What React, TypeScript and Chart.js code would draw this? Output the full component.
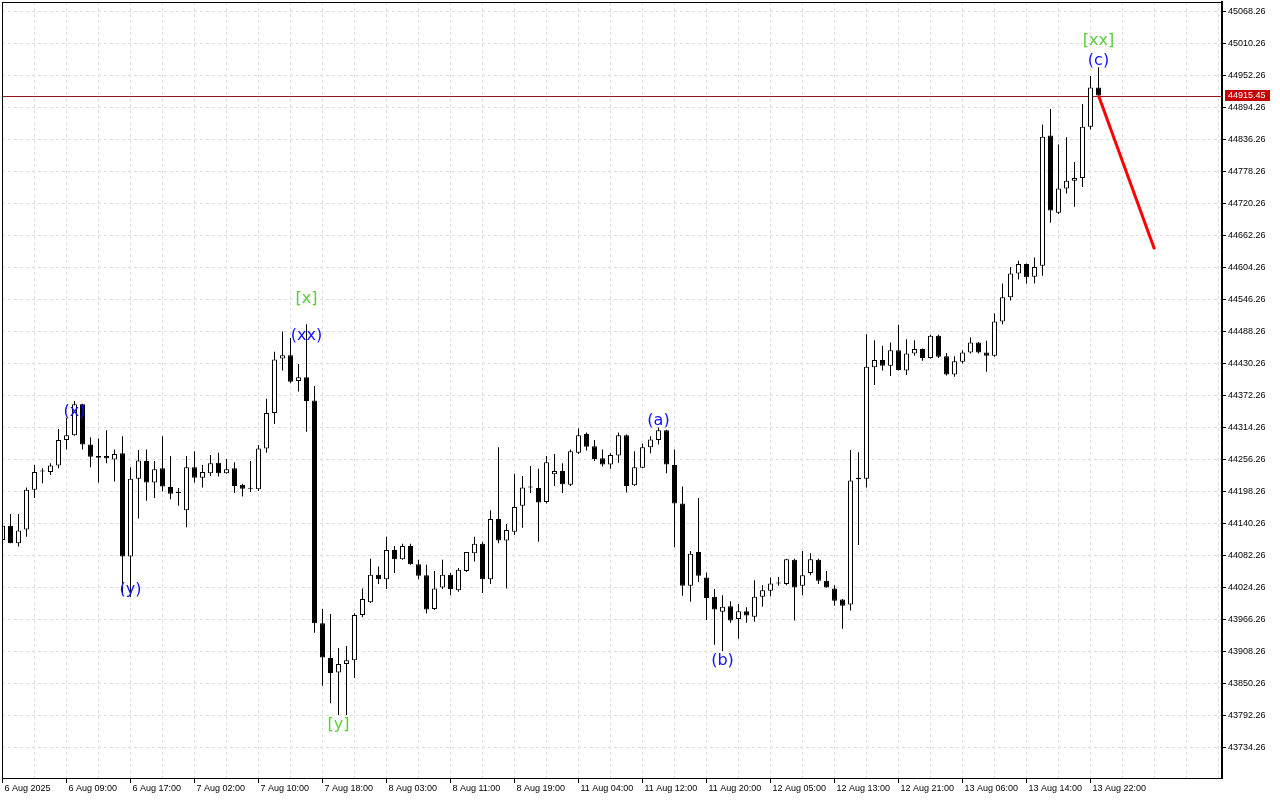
import React, { useEffect, useRef } from 'react';
import { Chart, registerables } from 'chart.js';

Chart.register(...registerables);

// Time-axis labels (one every 8 hourly bars)
const xLabels = [
  '6 Aug 2025', '6 Aug 09:00', '6 Aug 17:00', '7 Aug 02:00', '7 Aug 10:00', '7 Aug 18:00',
  '8 Aug 03:00', '8 Aug 11:00', '8 Aug 19:00', '11 Aug 04:00', '11 Aug 12:00', '11 Aug 20:00',
  '12 Aug 05:00', '12 Aug 13:00', '12 Aug 21:00', '13 Aug 06:00', '13 Aug 14:00', '13 Aug 22:00',
];

// Price-axis tick labels
const yTicks = [
  43734.26, 43792.26, 43850.26, 43908.26, 43966.26, 44024.26, 44082.26, 44140.26,
  44198.26, 44256.26, 44314.26, 44372.26, 44430.26, 44488.26, 44546.26, 44604.26,
  44662.26, 44720.26, 44778.26, 44836.26, 44894.26, 44952.26, 45010.26, 45068.26,
];

// OHLC series (hourly bars)
const opens = [
  44110, 44136, 44104, 44129, 44201, 44234, 44233, 44245, 44291, 44300,
  44356, 44283, 44262, 44262, 44256, 44267, 44080, 44221, 44253, 44214,
  44240, 44206, 44197, 44164, 44242, 44223, 44231, 44250, 44231, 44240,
  44210, 44203, 44202, 44276, 44340, 44439, 44445, 44398, 44405, 44363,
  43959, 43896, 43870, 43885, 43892, 43974, 43997, 44047, 44039, 44092,
  44075, 44099, 44066, 44046, 43985, 44024, 44047, 44019, 44054, 44086,
  44103, 44039, 44148, 44109, 44125, 44172, 44205, 44204, 44179, 44229,
  44235, 44210, 44268, 44302, 44280, 44258, 44247, 44263, 44300, 44209,
  44241, 44278, 44291, 44309, 44246, 44176, 44027, 44088, 44042, 44007,
  43980, 43990, 43967, 43981, 43971, 44007, 44018, 44031, 44030, 44074,
  44027, 44050, 44074, 44036, 44022, 44002, 43993, 44220, 44221, 44423,
  44436, 44426, 44454, 44417, 44448, 44456, 44440, 44480, 44443, 44410,
  44433, 44450, 44468, 44450, 44444, 44506, 44550, 44593, 44610, 44587,
  44607, 44843, 44703, 44747, 44761, 44766, 44859, 44930,
];
const highs = [
  44146, 44157, 44157, 44205, 44246, 44240, 44249, 44311, 44331, 44362,
  44357, 44296, 44294, 44309, 44274, 44298, 44242, 44273, 44274, 44253,
  44298, 44262, 44204, 44262, 44271, 44246, 44264, 44268, 44257, 44251,
  44212, 44253, 44282, 44366, 44451, 44488, 44476, 44429, 44501, 44389,
  43985, 43976, 43914, 43918, 43977, 44022, 44076, 44062, 44116, 44099,
  44103, 44103, 44074, 44065, 44054, 44074, 44050, 44059, 44088, 44116,
  44107, 44164, 44278, 44139, 44230, 44226, 44244, 44239, 44262, 44266,
  44249, 44274, 44312, 44305, 44291, 44274, 44267, 44305, 44301, 44271,
  44285, 44298, 44314, 44310, 44274, 44207, 44090, 44186, 44051, 44021,
  44010, 43999, 43994, 43988, 44037, 44028, 44042, 44043, 44076, 44076,
  44090, 44086, 44076, 44054, 44028, 44003, 44273, 44269, 44483, 44472,
  44462, 44468, 44500, 44474, 44472, 44457, 44482, 44482, 44449, 44443,
  44454, 44477, 44469, 44471, 44521, 44575, 44605, 44616, 44611, 44622,
  44863, 44891, 44827, 44840, 44795, 44900, 44951, 44967,
];
const lows = [
  44101, 44104, 44098, 44116, 44186, 44213, 44228, 44240, 44274, 44299,
  44274, 44242, 44214, 44249, 44216, 44010, 44007, 44149, 44181, 44186,
  44198, 44184, 44172, 44133, 44214, 44205, 44226, 44225, 44230, 44195,
  44189, 44197, 44199, 44268, 44320, 44417, 44394, 44379, 44306, 43942,
  43846, 43814, 43793, 43793, 43860, 43970, 43996, 44030, 44021, 44050,
  44074, 44065, 44039, 43977, 43983, 44021, 44010, 44016, 44052, 44071,
  44014, 44030, 44104, 44022, 44119, 44132, 44195, 44107, 44176, 44208,
  44195, 44208, 44266, 44272, 44253, 44243, 44239, 44250, 44196, 44208,
  44240, 44267, 44283, 44231, 44097, 44009, 43998, 44034, 43965, 43920,
  43909, 43960, 43931, 43960, 43962, 43989, 44008, 44027, 44028, 43964,
  44010, 44046, 44030, 44024, 43991, 43949, 43982, 44101, 44205, 44391,
  44417, 44407, 44417, 44409, 44444, 44435, 44439, 44440, 44408, 44406,
  44430, 44448, 44448, 44415, 44442, 44501, 44544, 44582, 44575, 44575,
  44589, 44685, 44701, 44738, 44714, 44750, 44854, 44915,
];
const closes = [
  44136, 44104, 44127, 44201, 44233, 44235, 44245, 44291, 44300, 44356,
  44283, 44261, 44259, 44258, 44266, 44080, 44221, 44254, 44214, 44238,
  44207, 44194, 44195, 44242, 44223, 44233, 44249, 44231, 44238, 44208,
  44203, 44204, 44276, 44340, 44437, 44445, 44397, 44405, 44362, 43959,
  43897, 43869, 43885, 43892, 43974, 44003, 44047, 44039, 44092, 44075,
  44099, 44066, 44045, 43984, 44022, 44047, 44021, 44056, 44088, 44103,
  44039, 44148, 44109, 44128, 44170, 44205, 44206, 44178, 44251, 44235,
  44211, 44271, 44300, 44279, 44257, 44247, 44264, 44300, 44208, 44242,
  44278, 44292, 44309, 44247, 44176, 44027, 44085, 44045, 44005, 43984,
  43989, 43964, 43981, 43973, 44007, 44019, 44031, 44032, 44075, 44024,
  44046, 44075, 44036, 44024, 44000, 43991, 44218, 44223, 44424, 44436,
  44426, 44454, 44418, 44448, 44456, 44440, 44480, 44442, 44410, 44434,
  44450, 44468, 44450, 44444, 44506, 44550, 44593, 44610, 44586, 44605,
  44841, 44707, 44747, 44761, 44766, 44859, 44930, 44915.45,
];

// Elliott-wave labels: text, bar index, price anchor, degree
const waveText = ['(x)', '(y)', '[x]', '(xx)', '[y]', '(a)', '(b)', '[xx]', '(c)'];
const waveIdx = [9, 16, 38, 38, 42, 82, 90, 137, 137];
const wavePrice = [44346, 44024, 44550, 44483, 43778, 44329, 43894, 45018, 44982];
const waveDegree = ['minor', 'minor', 'major', 'minor', 'major', 'minor', 'minor', 'major', 'minor'];

// Forecast line (bar index, price)
const projIdx = [137, 144];
const projPrice = [44915.45, 44637];

const lastPrice = closes[closes.length - 1];

// View range
const X_MIN = -0.0625;
const X_MAX = 152.4375;
const Y_MIN = 43678.6;
const Y_MAX = 45085.1;

const FONT = "'Liberation Sans', Arial, sans-serif";

export default function App() {
  const ref = useRef<HTMLCanvasElement>(null);

  useEffect(() => {
    const canvas = ref.current;
    if (!canvas) return;

    const idx = opens.map((_, i) => i);
    const wickData = idx.map((i) => ({ x: i, y: [lows[i], highs[i]] }));
    const bodyData = idx.map((i) => ({ x: i, y: [opens[i], closes[i]] }));
    const bodyFill = idx.map((i) => (closes[i] >= opens[i] ? '#ffffff' : '#000000'));
    const xGrid: number[] = [];
    for (let v = 0; v <= X_MAX; v += 4) xGrid.push(v);
    const hasLabel = (v: number) => v % 8 === 0 && v / 8 < xLabels.length;

    const overlay = {
      id: 'overlay',
      beforeDatasetsDraw(chart: any) {
        const { ctx, chartArea } = chart;
        const ys = chart.scales.y;
        ctx.save();
        // current price line
        const py = Math.round(ys.getPixelForValue(lastPrice)) + 0.5;
        ctx.strokeStyle = '#8c1a1a';
        ctx.lineWidth = 1;
        ctx.beginPath();
        ctx.moveTo(chartArea.left, py);
        ctx.lineTo(chartArea.right, py);
        ctx.stroke();
        ctx.restore();
      },
      afterDatasetsDraw(chart: any) {
        const { ctx } = chart;
        const xs = chart.scales.x;
        const ys = chart.scales.y;
        ctx.save();
        ctx.font = "16px 'DejaVu Sans', sans-serif";
        ctx.textAlign = 'center';
        ctx.textBaseline = 'middle';
        waveText.forEach((t, i) => {
          ctx.fillStyle = waveDegree[i] === 'major' ? '#5ccc3c' : '#1010ff';
          ctx.fillText(t, xs.getPixelForValue(waveIdx[i]), ys.getPixelForValue(wavePrice[i]) + 2);
        });
        ctx.restore();
      },
      afterDraw(chart: any) {
        const { ctx, chartArea } = chart;
        const ys = chart.scales.y;
        ctx.save();
        // frame top / left
        ctx.strokeStyle = '#000';
        ctx.lineWidth = 1;
        ctx.beginPath();
        ctx.moveTo(chartArea.left + 0.5, chartArea.top + 0.5);
        ctx.lineTo(chartArea.right + 1, chartArea.top + 0.5);
        ctx.moveTo(chartArea.left + 0.5, chartArea.top);
        ctx.lineTo(chartArea.left + 0.5, chartArea.bottom);
        ctx.stroke();
        // price tag
        const py = Math.round(ys.getPixelForValue(lastPrice));
        const txt = lastPrice.toFixed(2);
        ctx.font = `9px ${FONT}`;
        const w = Math.ceil(ctx.measureText(txt).width) + 7;
        const x0 = chartArea.right + 3;
        ctx.fillStyle = '#c80000';
        ctx.fillRect(x0, py - 6, w, 11);
        ctx.fillStyle = '#ffffff';
        ctx.textAlign = 'left';
        ctx.textBaseline = 'middle';
        ctx.fillText(txt, x0 + 3, py - 0.5);
        ctx.restore();
      },
    };

    const chart = new Chart(canvas, {
      type: 'bar',
      data: {
        datasets: [
          {
            type: 'line',
            data: projIdx.map((k, i) => ({ x: k, y: projPrice[i] })),
            borderColor: '#ff0000',
            borderWidth: 3,
            pointRadius: 0,
            order: 0,
            clip: 0,
          } as any,
          {
            type: 'bar',
            data: bodyData,
            backgroundColor: bodyFill,
            borderColor: '#000000',
            borderWidth: 1,
            borderSkipped: false,
            barThickness: 5,
            grouped: false,
            inflateAmount: 0,
            minBarLength: 1,
            order: 1,
            clip: 0,
          } as any,
          {
            type: 'bar',
            data: wickData,
            backgroundColor: '#000000',
            borderWidth: 0,
            barThickness: 1,
            grouped: false,
            inflateAmount: 0,
            order: 2,
            clip: 0,
          } as any,
        ],
      },
      options: {
        responsive: false,
        animation: false,
        devicePixelRatio: 1,
        layout: { padding: { left: 2, top: 2, right: 0, bottom: 0 } },
        plugins: { legend: { display: false }, tooltip: { enabled: false } },
        scales: {
          x: {
            type: 'linear',
            position: 'bottom',
            bounds: 'data',
            min: X_MIN,
            max: X_MAX,
            offset: false,
            afterBuildTicks: (s: any) => {
              s.ticks = xGrid.map((v) => ({ value: v }));
            },
            afterFit: (s: any) => {
              s.height = 22;
              s.paddingLeft = 0;
              s.paddingRight = 0;
            },
            grid: {
              offset: false,
              color: '#dedede',
              lineWidth: 1,
              drawTicks: true,
              tickLength: 5,
              tickWidth: 1,
              tickColor: (c: any) => (c.tick && hasLabel(c.tick.value) ? '#000000' : 'rgba(0,0,0,0)'),
              tickBorderDash: [],
            },
            border: { display: true, color: '#000000', width: 1, dash: [3, 3] },
            ticks: {
              autoSkip: false,
              maxRotation: 0,
              minRotation: 0,
              align: 'start',
              labelOffset: 2,
              padding: 0,
              color: '#000000',
              font: { family: FONT, size: 9 },
              callback: (v: any) => {
                const n = Number(v);
                return hasLabel(n) ? xLabels[n / 8] : '';
              },
            },
          },
          y: {
            type: 'linear',
            position: 'right',
            bounds: 'data',
            min: Y_MIN,
            max: Y_MAX,
            afterBuildTicks: (s: any) => {
              s.ticks = yTicks.map((v) => ({ value: v }));
            },
            afterFit: (s: any) => {
              s.width = 58;
              s.paddingTop = 0;
              s.paddingBottom = 0;
            },
            grid: {
              color: '#dedede',
              lineWidth: 1,
              drawTicks: true,
              tickLength: 4,
              tickColor: '#000000',
              tickBorderDash: [],
            },
            border: { display: true, color: '#000000', width: 2, dash: [3, 3] },
            ticks: {
              padding: 2,
              color: '#000000',
              font: { family: FONT, size: 9 },
              callback: (v: any) => Number(v).toFixed(2),
            },
          },
        },
      } as any,
      plugins: [overlay],
    });

    return () => chart.destroy();
  }, []);

  return (
    <div style={{ position: 'fixed', left: 0, top: 0, width: 1280, height: 800, background: '#ffffff' }}>
      <canvas ref={ref} width={1280} height={800} style={{ display: 'block', width: 1280, height: 800 }} />
    </div>
  );
}
